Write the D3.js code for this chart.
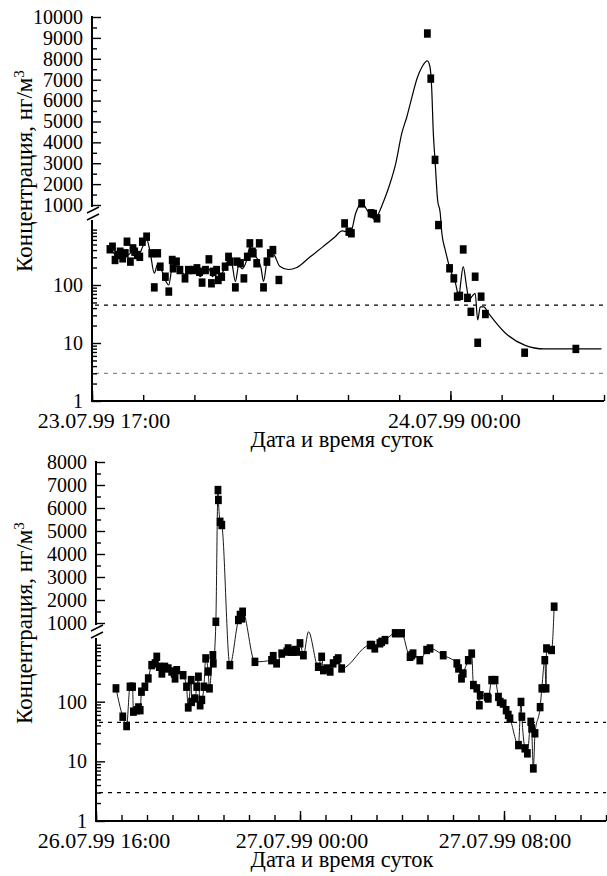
<!DOCTYPE html>
<html>
<head>
<meta charset="utf-8">
<script src="https://cdn.jsdelivr.net/npm/d3@7"></script>
<style>
  body { margin: 0; background: #fff; }
  text { font-family: "Liberation Serif", "Times New Roman", serif; fill: #000; }
</style>
</head>
<body>
<div id="chart"></div>
<script>
// ---- data ----
// upper panel: 23.07.99 17:00 .. 24.07.99 03:00
const topTimes = ["17:21","17:24","17:27","17:30","17:33","17:36","17:39","17:41","17:45","17:48",
  "17:50","17:53","17:56","17:59","18:04","18:10","18:13","18:17","18:20","18:26",
  "18:30","18:34","18:35","18:39","18:43","18:49","18:53","18:59","19:03","19:06",
  "19:09","19:13","19:17","19:20","19:22","19:26","19:28","19:32","19:36","19:40",
  "19:42","19:48","19:50","19:54","19:58","20:02","20:05","20:08","20:09","20:13",
  "20:16","20:21","20:25","20:29","20:32","20:39",
  "21:56","22:01","22:04","22:16","22:27","22:30","22:34",
  "23:33","23:37","23:42","23:46","23:59","00:04","00:08","00:11","00:15","00:20",
  "00:24","00:29","00:32","00:36","00:41","01:27","02:27"]
const topValues = [413,457,270,329,375,288,352,558,253,428,
  375,329,306,558,681,352,91,352,207,139,
  77,270,194,253,181,130,181,181,194,169,
  110,181,277,107,169,181,122,139,207,306,
  253,91,253,237,130,306,523,375,352,237,
  523,91,253,352,400,122,
  1015,830,780,1098,1057,1054,1036,
  9210,7050,3160,1008,194,130,63,65,410,60,
  34.5,139,10.1,63,31.6,6.8,7.9]

// smoothed curve of the upper panel
const topCurveTimes = ["17:18","17:24","17:30","17:36","17:42","17:48","17:54","18:00","18:04","18:08",
  "18:13","18:17","18:21","18:25","18:30","18:34","18:39","18:44","18:50","18:56",
  "19:02","19:07","19:12","19:17","19:21","19:26","19:30","19:35","19:40","19:44",
  "19:48","19:52","19:56","20:01","20:05","20:09","20:14","20:18","20:21","20:25",
  "20:30","20:34","20:40","20:50","21:00","21:15","21:30","21:45","21:53","22:03",
  "22:09","22:16","22:24","22:32","22:36","22:40","22:48","22:56","23:03","23:09",
  "23:15","23:21","23:27","23:33","23:36","23:38","23:40","23:42","23:45","23:48",
  "23:50","23:54","00:00","00:06","00:10","00:12","00:15","00:19","00:22","00:25",
  "00:29","00:32","00:35","00:39","00:45","01:04","01:27","01:50","02:57"]
const topCurveValues = [420,380,300,360,330,380,320,480,620,380,
  160,230,190,130,100,200,210,170,150,170,
  170,140,170,190,140,170,140,190,270,230,
  115,220,190,260,450,340,280,200,115,260,
  370,320,210,185,200,300,450,680,860,800,
  1057,1098,1062,1029,1057,1091,1876,2995,4430,5225,
  6180,7070,7630,7900,7630,6660,4430,3150,1240,1060,
  780,400,181,107,63,107,207,93,55,63,
  72,25,42,42,32,15,9.2,7.9,7.9]

// lower panel: 26.07.99 16:00 .. 27.07.99 12:00
const botTimes = ["16:47","17:03","17:12","17:20","17:26","17:28","17:36","17:40","17:44","17:47",
  "17:55","18:03","18:11","18:19","18:23","18:29","18:35","18:42","18:50","18:58",
  "19:04","19:06","19:10","19:25","19:33","19:37","19:44","19:45","19:53","19:57",
  "20:01","20:05","20:09","20:14","20:18","20:24","20:27","20:35","20:36","20:42",
  "20:47","20:48","20:52","20:56","21:15","21:35","21:39","21:43","21:45","22:14",
  "22:53","22:57","23:05","23:17","23:29","23:32","23:40","23:44","23:48","23:52",
  "00:00","00:08","00:43","00:51","00:55","01:03","01:11","01:18","01:26","01:30",
  "01:38","02:45","02:49","02:56","03:08","03:12","03:20","03:44","03:59","04:19",
  "04:23","04:26","04:42","04:58","05:06","05:37","06:09","06:13","06:20","06:24",
  "06:36","06:44","06:48","06:56","07:02","07:04","07:21","07:23","07:31","07:39",
  "07:47","07:51","07:58","08:05","08:10","08:14","08:34","08:40","08:42","08:49",
  "08:55","09:03","09:05","09:09","09:13","09:25","09:29","09:36","09:39","09:40",
  "09:52","09:58"]
const botValues = [167,56,39,178,178,68,72,80,72,147,
  178,245,410,438,565,384,297,384,360,320,
  297,245,337,278,178,80,230,99,113,178,
  262,87,107,178,531,320,167,600,438,1095,
  6780,6350,5400,5260,410,1130,1350,1200,1490,465,
  495,580,438,640,690,780,690,690,735,690,
  950,600,384,565,337,360,320,438,495,531,
  360,890,890,780,950,1001,1009,1041,1041,565,
  600,640,495,735,780,600,438,360,245,297,
  495,640,190,167,87,128,120,113,230,230,
  120,99,93,72,60,52,18.7,99,56,16.5,
  13.6,46,35.6,7.6,29.5,81,167,495,167,780,
  735,1710]
// extra vertex of the lower line (spike without a marker)
const botLineExtraTimes = ["00:20"]
const botLineExtraValues = [1048]

// limit lines, ng/m3
const limitValues = [45, 3]

// tick labels
const topXLabels = [["23.07.99 17:00", "1999-07-23 17:00"], ["24.07.99 00:00", "1999-07-24 00:00"]]
const botXLabels = [["26.07.99 16:00", "1999-07-26 16:00"], ["27.07.99 00:00", "1999-07-27 00:00"], ["27.07.99 08:00", "1999-07-27 08:00"]]
const topLinTicks = [1000,2000,3000,4000,5000,6000,7000,8000,9000,10000]
const botLinTicks = [1000,2000,3000,4000,5000,6000,7000,8000]
const logTicks = [1, 10, 100]
const logMinor = [2,3,4,5,6,7,8,9,20,30,40,50,60,70,80,90,200,300,400,500,600,700,800,900]

// ---- drawing ----
const svg = d3.select("#chart").append("svg").attr("width", 607).attr("height", 876)
const parseFull = d3.timeParse("%Y-%m-%d %H:%M")

// "HH:MM" -> Date, rolling over to the next day when the hour is before the panel start
function toDate(day, startHour, hhmm) {
    let d = parseFull(day + " " + hhmm)
    if (+hhmm.slice(0, 2) < startHour) d = d3.timeDay.offset(d, 1)
    return d
}

function drawPanel(p) {
    let x = d3.scaleTime().domain([parseFull(p.start), parseFull(p.end)]).range([p.x0, p.x1])
    let yLog = d3.scaleLog().domain([1, 1000]).range(p.logRange)
    let yLin = d3.scaleLinear().domain(p.linDomain).range(p.linRange)
    // broken axis: log below 1000, linear above, short bridge through the break
    let y = (v) => {
        if (v <= 1000) return yLog(v)
        if (v >= 1100) return yLin(v)
        return yLog(1000) + (v - 1000) / 100 * (yLin(1100) - yLog(1000))
    }
    let g = svg.append("g")

    // dashed limit lines
    limitValues.forEach((v, i) => {
        g.append("line")
            .attr("x1", p.x0 + 3).attr("x2", p.x1)
            .attr("y1", yLog(v)).attr("y2", yLog(v))
            .attr("stroke", p.dashColors[i]).attr("stroke-width", 1.3)
            .attr("stroke-dasharray", "4,5")
    })

    // line
    let lineData = p.lineT.map((t, i) => [toDate(p.day, p.startHour, t), p.lineV[i]])
        .sort((a, b) => a[0] - b[0])
    g.append("path")
        .datum(lineData)
        .attr("fill", "none").attr("stroke", "#000").attr("stroke-width", p.lineWidth)
        .attr("d", d3.line().x(d => x(d[0])).y(d => y(d[1])).curve(d3.curveMonotoneX))

    // markers
    g.selectAll(".pt")
        .data(p.ptT.map((t, i) => [toDate(p.day, p.startHour, t), p.ptV[i]]))
        .enter().append("rect")
        .attr("class", "pt")
        .attr("x", d => x(d[0]) - 3.4).attr("y", d => y(d[1]) - 4.2)
        .attr("width", 6.8).attr("height", 8.4)
        .attr("fill", "#000")

    // y axis ticks
    let linMajor = d3.axisLeft(yLin).tickValues(p.linTicks).tickSize(-9).tickPadding(9).tickFormat(d3.format("d"))
    let linMinorTicks = p.linTicks.slice(0, -1).map(v => v + 500)
    let linMinor = d3.axisLeft(yLin).tickValues(linMinorTicks).tickSize(-5).tickFormat("")
    let logMajor = d3.axisLeft(yLog).tickValues(logTicks).tickSize(-9).tickPadding(9).tickFormat(d3.format("d"))
    let logMin = d3.axisLeft(yLog).tickValues(logMinor).tickSize(-5).tickFormat("")
    ;[linMajor, linMinor, logMajor, logMin].forEach(ax => {
        let a = g.append("g").attr("transform", `translate(${p.x0},0)`).call(ax)
        a.select(".domain").remove()
        a.selectAll("line").attr("stroke", "#000").attr("stroke-width", 1.4)
        a.selectAll("text").style("font-family", "Liberation Serif").style("font-size", "20px")
    })
    // axis line pieces and break marks
    g.append("line").attr("x1", p.x0).attr("x2", p.x0).attr("y1", p.linRange[1] - 1).attr("y2", p.breakTop)
        .attr("stroke", "#000").attr("stroke-width", 2)
    g.append("line").attr("x1", p.x0).attr("x2", p.x0).attr("y1", p.breakBottom).attr("y2", p.axisY + 1)
        .attr("stroke", "#000").attr("stroke-width", 2)
    ;[p.breakTop + 3, p.breakBottom - 3].forEach(yy => {
        g.append("line").attr("x1", p.x0 - 5).attr("x2", p.x0 + 7)
            .attr("y1", yy + 3).attr("y2", yy - 3)
            .attr("stroke", "#000").attr("stroke-width", 1.5)
    })

    // x axis
    let xMinor = d3.axisBottom(x).ticks(d3.timeHour.every(1)).tickSize(-6).tickFormat("")
    let xMajorDates = p.xLabels.map(d => parseFull(d[1]))
    let xMajor = d3.axisBottom(x).tickValues(xMajorDates).tickSize(-10).tickFormat("")
    ;[xMinor, xMajor].forEach(ax => {
        let a = g.append("g").attr("transform", `translate(0,${p.axisY})`).call(ax)
        a.select(".domain").remove()
        a.selectAll("line").attr("stroke", "#000").attr("stroke-width", 1.4)
    })
    g.append("line").attr("x1", p.x0 - 1).attr("x2", p.x1).attr("y1", p.axisY).attr("y2", p.axisY)
        .attr("stroke", "#000").attr("stroke-width", 2)
    g.selectAll(".xlab")
        .data(p.xLabels)
        .enter().append("text")
        .attr("class", "xlab")
        .attr("x", (d, i) => x(parseFull(d[1])) + p.labelShift[i])
        .attr("y", p.axisY + 27)
        .attr("text-anchor", "middle")
        .style("font-size", "22px")
        .text(d => d[0])

    // titles
    g.append("text")
        .attr("x", 342).attr("y", p.axisY + 46)
        .attr("text-anchor", "middle")
        .style("font-size", "22.5px")
        .text("Дата и время суток")
    let yt = g.append("text")
        .attr("transform", `translate(32,${p.yTitleY}) rotate(-90)`)
        .attr("text-anchor", "middle")
        .style("font-size", "23px")
        .text("Концентрация, нг/м")
    yt.append("tspan").attr("dy", -8).style("font-size", "15px").text("3")
}

drawPanel({
    day: "1999-07-23", startHour: 17, start: "1999-07-23 17:00", end: "1999-07-24 03:00",
    x0: 92, x1: 604, axisY: 401,
    logRange: [401, 227], linDomain: [1000, 10000], linRange: [205, 17],
    breakTop: 207, breakBottom: 220,
    linTicks: topLinTicks, xLabels: topXLabels, labelShift: [12, 4],
    ptT: topTimes, ptV: topValues, lineT: topCurveTimes, lineV: topCurveValues, lineWidth: 1.2,
    dashColors: ["#000", "#888"], yTitleY: 171
})

drawPanel({
    day: "1999-07-26", startHour: 16, start: "1999-07-26 16:00", end: "1999-07-27 12:00",
    x0: 96, x1: 606, axisY: 821,
    logRange: [821, 642], linDomain: [1000, 8000], linRange: [623, 462],
    breakTop: 625, breakBottom: 638,
    linTicks: botLinTicks, xLabels: botXLabels, labelShift: [8, 2, 1],
    ptT: botTimes, ptV: botValues,
    lineT: botTimes.concat(botLineExtraTimes), lineV: botValues.concat(botLineExtraValues), lineWidth: 0.9,
    dashColors: ["#000", "#000"], yTitleY: 623
})
</script>
</body>
</html>
